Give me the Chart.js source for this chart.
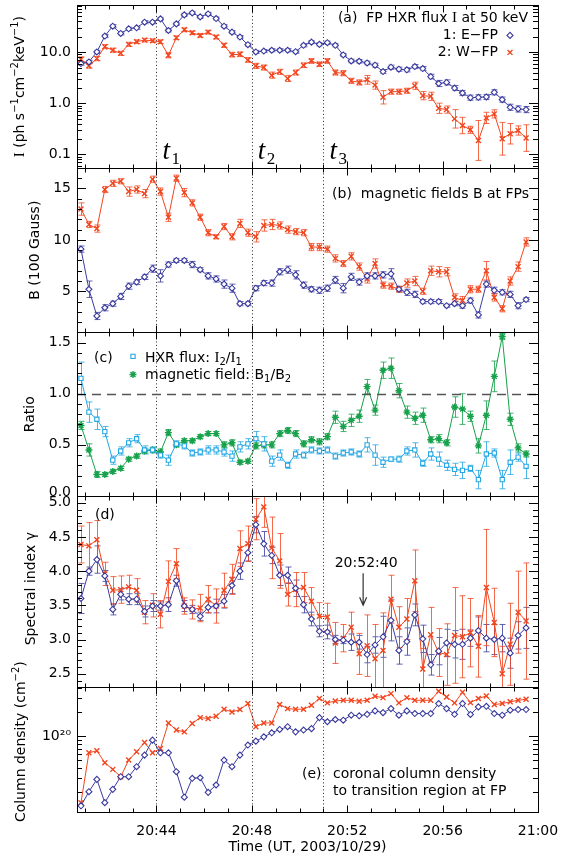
<!DOCTYPE html>
<html>
<head>
<meta charset="utf-8">
<script src="https://cdn.jsdelivr.net/npm/chart.js@4.4.1/dist/chart.umd.min.js"></script>
<style>
  html, body { margin: 0; padding: 0; background: #fff; }
  #wrap { position: relative; width: 561px; height: 860px; }
</style>
</head>
<body>
<div id="wrap"><canvas id="fpChart" width="561" height="860"></canvas></div>
<script>
// time of each 20 s bin (UT)
var times = ['20:40:50','20:41:10','20:41:30','20:41:50','20:42:10','20:42:30','20:42:50','20:43:10','20:43:30','20:43:50',
  '20:44:10','20:44:30','20:44:50','20:45:10','20:45:30','20:45:50','20:46:10','20:46:30','20:46:50','20:47:10',
  '20:47:30','20:47:50','20:48:10','20:48:30','20:48:50','20:49:10','20:49:30','20:49:50','20:50:10','20:50:30',
  '20:50:50','20:51:10','20:51:30','20:51:50','20:52:10','20:52:30','20:52:50','20:53:10','20:53:30','20:53:50',
  '20:54:10','20:54:30','20:54:50','20:55:10','20:55:30','20:55:50','20:56:10','20:56:30','20:56:50','20:57:10',
  '20:57:30','20:57:50','20:58:10','20:58:30','20:58:50','20:59:10','20:59:30'];

// (a) HXR flux at 50 keV, E-FP and W-FP, errors in dex
var fluxE = [5.98,6.44,10.1,20.6,32.2,23.2,28.6,29.9,38.5,38.5, 44.7,26.5,35.7,53.5,58.5,48.9,55.9,45.4,32.2,24.6,
  19.7,14.0,10.1,10.5,10.9,10.9,10.9,10.2,13.6,15.7, 14.2,15.3,13.6,8.81,6.73,6.64,6.16,5.55,4.18,5.08,
  4.65,4.51,5.23,4.78,3.34,2.44,2.56,1.99,1.59,1.29, 1.31,1.33,1.64,1.18,0.836,0.776,0.754];
var fluxW = [7.26,5.39,7.48,12.8,10.9,9.49,14.2,16.0,17.2,16.7, 16.0,8.68,19.1,27.3,23.9,21.2,24.6,19.7,13.6,8.94,
  9.08,7.05,5.39,5.00,3.55,4.12,3.06,4.00,5.55,6.73, 5.80,6.73,4.00,3.88,2.75,2.56,2.88,2.27,1.31,1.69,
  1.69,1.76,2.20,1.41,1.37,0.80,0.754,0.497,0.368,0.303, 0.188,0.519,0.621,0.203,0.254,0.294,0.209];
var fluxEErr = [0.03,0.03,0.03,0.03,0.03,0.03,0.03,0.03,0.03,0.03, 0.03,0.03,0.03,0.03,0.03,0.03,0.03,0.03,0.03,0.03,
  0.03,0.03,0.03,0.03,0.03,0.03,0.03,0.03,0.03,0.03, 0.03,0.03,0.03,0.03,0.035,0.035,0.035,0.04,0.04,0.04,
  0.04,0.04,0.04,0.04,0.045,0.06,0.05,0.05,0.05,0.05, 0.05,0.05,0.05,0.05,0.06,0.06,0.06];
var fluxWErr = [0.045,0.045,0.04,0.04,0.04,0.04,0.04,0.035,0.035,0.035, 0.035,0.05,0.035,0.035,0.035,0.035,0.035,0.035,0.04,0.045,
  0.045,0.045,0.05,0.05,0.06,0.05,0.06,0.05,0.045,0.045, 0.045,0.045,0.05,0.05,0.05,0.05,0.085,0.08,0.13,0.05,
  0.05,0.05,0.07,0.08,0.08,0.1,0.07,0.18,0.16,0.07, 0.39,0.11,0.08,0.32,0.2,0.09,0.26];

// (b) magnetic field (100 G)
var fieldE = [9.1,5.2,2.6,3.4,3.8,4.5,5.5,5.9,6.4,7.2, 6.5,7.6,8.0,8.0,7.6,7.1,6.5,6.2,5.7,5.3,
  3.8,3.8,5.3,5.8,5.8,6.9,7.1,6.6,5.6,5.2, 5.1,5.3,6.1,5.3,6.4,5.9,6.5,6.5,6.6,6.7,
  5.2,4.9,4.7,4.0,4.0,4.0,3.6,3.8,3.6,4.1, 2.7,5.7,5.1,4.9,4.7,3.6,4.2];
var fieldW = [13.0,11.5,11.1,14.9,15.5,15.7,14.7,14.9,14.5,15.9, 14.7,12.2,16.0,14.6,13.6,12.2,10.7,10.3,11.3,10.3,
  11.6,10.7,10.3,11.4,11.5,11.4,11.0,10.8,10.7,9.3, 9.3,9.1,8.2,7.7,8.4,7.4,6.2,7.7,5.6,5.5,
  5.2,5.8,6.0,5.0,7.0,6.9,6.9,4.4,4.1,5.2, 5.2,7.0,4.4,3.3,6.0,7.4,9.8];
var fieldEErr = [0.3,0.8,0.35,0.3,0.25,0.3,0.3,0.25,0.25,0.35, 0.6,0.25,0.2,0.2,0.3,0.2,0.3,0.3,0.4,0.4,
  0.2,0.2,0.25,0.25,0.3,0.3,0.35,0.4,0.3,0.25, 0.3,0.3,0.35,0.45,0.35,0.3,0.3,0.3,0.3,0.5,
  0.25,0.3,0.3,0.2,0.2,0.2,0.15,0.2,0.25,0.25, 0.3,0.3,0.3,0.25,0.3,0.3,0.2];
var fieldWErr = [0.6,0.3,0.35,0.3,0.3,0.25,0.45,0.35,0.4,0.3, 0.35,0.4,0.3,0.4,0.3,0.3,0.3,0.2,0.3,0.3,
  0.4,0.35,0.5,0.55,0.5,0.35,0.35,0.3,0.3,0.35, 0.35,0.3,0.35,0.3,0.35,0.35,0.4,0.45,0.3,0.3,
  0.3,0.4,0.45,0.3,0.45,0.5,0.4,0.35,0.4,0.35, 0.3,0.9,0.35,0.3,0.4,0.45,0.4];

// (c) ratios I2/I1 and B1/B2
var ratioFlux = [1.15,0.82,0.75,0.63,0.35,0.44,0.52,0.56,0.45,0.45, 0.40,0.35,0.51,0.49,0.42,0.43,0.45,0.45,0.43,0.39,
  0.48,0.51,0.56,0.51,0.34,0.40,0.30,0.41,0.40,0.45, 0.44,0.45,0.39,0.42,0.43,0.41,0.50,0.40,0.33,0.36,
  0.36,0.44,0.45,0.32,0.41,0.36,0.30,0.26,0.25,0.27, 0.16,0.41,0.42,0.16,0.33,0.38,0.29];
var ratioField = [0.69,0.45,0.21,0.21,0.24,0.27,0.36,0.39,0.44,0.45, 0.43,0.62,0.50,0.54,0.54,0.58,0.61,0.61,0.50,0.52,
  0.33,0.34,0.49,0.50,0.50,0.61,0.64,0.61,0.51,0.55, 0.53,0.58,0.77,0.68,0.74,0.78,1.07,0.84,1.23,1.25,
  1.03,0.82,0.76,0.79,0.55,0.56,0.52,0.87,0.85,0.78, 0.49,0.79,1.17,1.56,0.75,0.47,0.41];
var ratioFluxErr = [0.16,0.1,0.1,0.05,0.04,0.04,0.04,0.04,0.04,0.03, 0.03,0.05,0.03,0.03,0.03,0.03,0.04,0.04,0.04,0.05,
  0.05,0.05,0.07,0.07,0.05,0.05,0.03,0.04,0.03,0.03, 0.03,0.03,0.03,0.03,0.03,0.03,0.07,0.1,0.05,0.02,
  0.03,0.04,0.07,0.03,0.06,0.07,0.05,0.06,0.08,0.03, 0.09,0.12,0.04,0.09,0.12,0.04,0.12];
var ratioFieldErr = [0.04,0.06,0.03,0.02,0.02,0.02,0.02,0.02,0.02,0.02, 0.03,0.03,0.02,0.02,0.02,0.02,0.02,0.02,0.03,0.03,
  0.02,0.02,0.03,0.03,0.03,0.03,0.03,0.03,0.03,0.03, 0.03,0.03,0.06,0.05,0.06,0.06,0.07,0.05,0.08,0.1,
  0.07,0.06,0.06,0.07,0.03,0.04,0.03,0.1,0.15,0.05, 0.07,0.14,0.15,0.03,0.06,0.04,0.03];

// (d) spectral index
var gammaE = [3.60,4.00,4.17,3.93,3.44,3.66,3.59,3.59,3.41,3.49, 3.49,3.51,3.86,3.49,3.44,3.34,3.47,3.49,3.56,3.79,
  4.00,4.27,4.68,4.40,4.23,3.94,3.94,3.75,3.51,3.30, 3.12,3.11,3.00,2.99,2.96,2.96,2.78,2.92,3.04,3.28,
  2.84,2.97,3.36,3.01,2.63,2.83,2.95,2.93,2.93,3.02, 3.13,3.02,3.00,3.02,2.80,3.06,3.17];
var gammaW = [4.39,4.37,4.46,3.96,3.72,3.73,3.77,3.72,3.40,3.50, 3.37,3.85,4.11,3.49,3.44,3.46,3.59,3.49,3.72,3.88,
  4.33,4.40,4.76,4.94,4.34,4.15,3.66,3.73,3.76,3.56, 3.34,3.33,2.95,3.02,3.18,2.79,2.91,2.72,2.84,3.59,
  3.18,3.30,3.86,2.57,3.07,2.81,2.78,3.06,3.04,3.10, 2.90,3.76,3.25,2.50,2.93,3.40,3.27];
var gammaEErr = [0.22,0.06,0.2,0.08,0.08,0.08,0.08,0.08,0.08,0.08, 0.06,0.1,0.08,0.08,0.06,0.06,0.08,0.1,0.1,0.12,
  0.12,0.12,0.12,0.18,0.12,0.15,0.12,0.12,0.12,0.1, 0.08,0.1,0.06,0.05,0.12,0.1,0.12,0.12,0.3,0.3,
  0.2,0.2,0.16,0.2,0.15,0.2,0.2,0.2,0.22,0.12, 0.2,0.2,0.22,0.2,0.22,0.2,0.3];
var gammaWErr = [0.27,0.34,0.28,0.17,0.2,0.2,0.17,0.17,0.17,0.17, 0.2,0.3,0.22,0.12,0.14,0.2,0.2,0.25,0.25,0.22,
  0.26,0.26,0.3,0.3,0.45,0.4,0.17,0.25,0.22,0.2, 0.2,0.2,0.3,0.2,0.22,0.3,0.45,0.5,0.55,0.35,
  0.3,0.3,0.45,0.3,0.4,0.35,0.45,0.7,0.6,0.5, 0.45,0.85,0.5,0.4,0.6,0.6,0.85];

// (e) coronal column density (cm^-2)
var columnE = [1.36e19,2.04e19,2.90e19,1.49e19,2.18e19,3.13e19,3.13e19,4.17e19,5.81e19,8.92e19,
  6.21e19,6.21e19,3.61e19,1.74e19,2.99e19,3.04e19,2.00e19,2.47e19,5.04e19,4.17e19,
  5.81e19,7.74e19,8.67e19,9.8e19,1.10e20,1.21e20,1.31e20,1.13e20,1.19e20,1.24e20,
  1.70e20,1.51e20,1.61e20,1.58e20,1.82e20,1.79e20,1.87e20,2.06e20,1.96e20,2.20e20,
  1.82e20,2.06e20,1.91e20,1.91e20,1.91e20,2.54e20,2.20e20,1.87e20,2.54e20,1.86e20,
  2.31e20,2.35e20,1.91e20,1.82e20,2.10e20,2.14e20,2.14e20];
var columnW = [1.49e19,6.21e19,6.58e19,4.67e19,3.86e19,3.13e19,5.04e19,6.40e19,8.34e19,6.21e19,
  7.03e19,1.46e20,1.19e20,1.13e20,1.44e20,1.70e20,1.66e20,1.77e20,2.16e20,2.00e20,
  2.14e20,2.54e20,1.31e20,1.46e20,1.46e20,2.47e20,2.20e20,2.16e20,2.16e20,2.42e20,
  2.93e20,2.59e20,2.74e20,2.79e20,2.79e20,2.72e20,2.79e20,3.13e20,3.01e20,3.38e20,
  2.59e20,3.01e20,2.79e20,2.79e20,2.79e20,3.61e20,3.07e20,2.59e20,3.51e20,2.61e20,
  2.93e20,3.16e20,2.47e20,2.54e20,2.67e20,2.79e20,2.88e20];

// axis ticks and marked times
var timeTicks = ['20:44','20:48','20:52','20:56','21:00'];
var markTimes = ['20:44:00','20:48:00','20:51:00'];
var markNames = ['1','2','3'];
var arrowTime = '20:52:40';

var BLUE = '#3b3b9f', RED = '#f2451e', CYAN = '#22a6e4', GREEN = '#17a14b';
var SANS = '"DejaVu Sans", sans-serif';
var SERIF = '"Liberation Serif", "DejaVu Serif", serif';

function toMin(s) {
  var p = s.split(':');
  return (+p[0] - 20) * 60 + (+p[1]) + (p.length > 2 ? +p[2] / 60 : 0);
}
var tx = times.map(toMin);
function pts(arr) { return arr.map(function (v, i) { return { x: tx[i], y: v }; }); }

function series(label, arr, err, axis, color, style, errLog) {
  return {
    label: label, data: pts(arr), yAxisID: axis, err: err, errLog: !!errLog,
    borderColor: color, backgroundColor: '#fff', borderWidth: 1,
    pointStyle: style, pointRadius: style === 'crossRot' || style === 'star' ? 3.5 : 3,
    pointBorderColor: color, pointBackgroundColor: style === 'star' ? color : '#fff',
    pointBorderWidth: style === 'crossRot' || style === 'star' ? 1.4 : 1.1,
    tension: 0, fill: false
  };
}

function yAxis(type, weight, min, max, major, fmt) {
  return {
    type: type, position: 'left', stack: 'panels', stackWeight: weight,
    min: min, max: max, offset: false,
    grid: { display: false, drawTicks: false }, border: { display: false },
    afterBuildTicks: function (s) { s.ticks = major.map(function (v) { return { value: v }; }); },
    afterFit: function (s) { s.width = 77; s.paddingTop = 0; s.paddingBottom = 0; },
    ticks: { padding: 6, autoSkip: false, color: '#000', font: { size: 14, family: SANS }, callback: fmt }
  };
}

var minorTicks = {
  ya: [0.06,0.07,0.08,0.09,0.2,0.3,0.4,0.5,0.6,0.7,0.8,0.9,2,3,4,5,6,7,8,9,20,30,40,50,60,70,80],
  yb: [2,3,4,6,7,8,9,11,12,13,14,16],
  yc: [0.1,0.2,0.3,0.4,0.6,0.7,0.8,0.9,1.1,1.2,1.3,1.4,1.6],
  yd: [2.4,2.6,2.7,2.8,2.9,3.1,3.2,3.3,3.4,3.6,3.7,3.8,3.9,4.1,4.2,4.3,4.4,4.6,4.7,4.8,4.9],
  ye: [2e19,3e19,4e19,5e19,6e19,7e19,8e19,9e19,2e20,3e20,4e20]
};

function rich(ctx, x, y, parts, align) {
  var w = 0;
  parts.forEach(function (p) { ctx.font = p[1]; w += ctx.measureText(p[0]).width; });
  var cx = align === 'right' ? x - w : (align === 'center' ? x - w / 2 : x);
  ctx.textAlign = 'left';
  ctx.textBaseline = 'middle';
  parts.forEach(function (p) {
    ctx.font = p[1];
    ctx.fillText(p[0], cx, y + (p[2] || 0));
    cx += ctx.measureText(p[0]).width;
  });
}
function vtitle(ctx, x, y, parts) {
  ctx.save();
  ctx.translate(x, y);
  ctx.rotate(-Math.PI / 2);
  rich(ctx, 0, 0, parts, 'center');
  ctx.restore();
}
function marker(ctx, style, color, x, y, r, fillCol, bw) {
  ctx.save();
  ctx.strokeStyle = color;
  ctx.fillStyle = fillCol;
  ctx.lineWidth = bw;
  Chart.helpers.drawPoint(ctx, { pointStyle: style, radius: r, borderWidth: bw, rotation: 0 }, x, y);
  ctx.restore();
}

var f14 = '14px ' + SANS, f10 = '10px ' + SANS, s15 = '15px ' + SERIF;

var panelPlugin = {
  id: 'panelPlugin',
  beforeDatasetsDraw: function (chart) {
    var ctx = chart.ctx, xs = chart.scales.x, area = chart.chartArea;
    chart.data.datasets.forEach(function (ds) {
      if (!ds.err) return;
      var ys = chart.scales[ds.yAxisID];
      ctx.save();
      ctx.beginPath();
      ctx.rect(area.left, ys.top, area.right - area.left, ys.bottom - ys.top);
      ctx.clip();
      ctx.strokeStyle = ds.borderColor;
      ctx.globalAlpha = 0.8;
      ctx.lineWidth = 1;
      ds.data.forEach(function (p, k) {
        var e = ds.err[k], lo, hi;
        if (ds.errLog) { lo = p.y / Math.pow(10, e); hi = p.y * Math.pow(10, e); }
        else { lo = p.y - e; hi = p.y + e; }
        var px = Math.round(xs.getPixelForValue(p.x)) + 0.5;
        var y0 = ys.getPixelForValue(lo), y1 = ys.getPixelForValue(hi);
        ctx.beginPath();
        ctx.moveTo(px, y0); ctx.lineTo(px, y1);
        ctx.moveTo(px - 3, y0); ctx.lineTo(px + 3, y0);
        ctx.moveTo(px - 3, y1); ctx.lineTo(px + 3, y1);
        ctx.stroke();
      });
      ctx.restore();
    });
  },
  afterDatasetsDraw: function (chart) {
    var ctx = chart.ctx, xs = chart.scales.x, area = chart.chartArea;
    var L = area.left, R = area.right;
    ctx.save();
    // marked times t1, t2, t3
    ctx.strokeStyle = '#222';
    ctx.lineWidth = 1;
    ctx.setLineDash([1, 2.5]);
    markTimes.forEach(function (t) {
      var px = Math.round(xs.getPixelForValue(toMin(t))) + 0.5;
      ctx.beginPath(); ctx.moveTo(px, area.top); ctx.lineTo(px, area.bottom); ctx.stroke();
    });
    // ratio = 1 reference
    var yc = chart.scales.yc;
    ctx.strokeStyle = '#555';
    ctx.lineWidth = 1.3;
    ctx.setLineDash([9, 6]);
    var y1 = Math.round(yc.getPixelForValue(1.0)) + 0.5;
    ctx.beginPath(); ctx.moveTo(L, y1); ctx.lineTo(R, y1); ctx.stroke();
    ctx.setLineDash([]);

    // frames and inward ticks
    ctx.strokeStyle = '#000';
    ctx.lineWidth = 1;
    ['ya', 'yb', 'yc', 'yd', 'ye'].forEach(function (id) {
      var s = chart.scales[id];
      var top = Math.round(s.top) + 0.5, bot = Math.round(s.bottom) + 0.5;
      ctx.strokeRect(Math.round(L) + 0.5, top, Math.round(R - L), bot - top);
      ctx.beginPath();
      for (var m = 41; m <= 60; m++) {
        var px = Math.round(xs.getPixelForValue(m)) + 0.5, len = m % 4 === 0 ? 7 : 4;
        ctx.moveTo(px, bot); ctx.lineTo(px, bot - len);
        ctx.moveTo(px, top); ctx.lineTo(px, top + len);
      }
      var tickSet = s.ticks.map(function (t) { return [t.value, 9]; })
        .concat(minorTicks[id].map(function (v) { return [v, 5]; }));
      tickSet.forEach(function (t) {
        if (t[0] < s.min || t[0] > s.max) return;
        var py = Math.round(s.getPixelForValue(t[0])) + 0.5;
        ctx.moveTo(L, py); ctx.lineTo(L + t[1], py);
        ctx.moveTo(R, py); ctx.lineTo(R - t[1], py);
      });
      ctx.stroke();
    });

    ctx.fillStyle = '#000';
    // bottom label of the ratio panel, lifted clear of the 5.0 below it
    rich(ctx, L - 6, yc.bottom - 4, [['0.0', f14]], 'right');

    // t labels
    var ya = chart.scales.ya;
    markTimes.forEach(function (t, i) {
      var px = xs.getPixelForValue(toMin(t));
      ctx.textAlign = 'left'; ctx.textBaseline = 'alphabetic';
      ctx.font = 'italic 27px ' + SERIF;
      ctx.fillText('t', px + 6, ya.bottom - 9);
      ctx.font = '17px ' + SERIF;
      ctx.fillText(markNames[i], px + 15, ya.bottom - 4);
    });

    // axis titles
    vtitle(ctx, 20, (ya.top + ya.bottom) / 2, [['I', s15], [' (ph s', f14], ['\u22121', f10, -5], ['cm', f14], ['\u22122', f10, -5], ['keV', f14], ['\u22121', f10, -5], [')', f14]]);
    var yb = chart.scales.yb, yd = chart.scales.yd, ye = chart.scales.ye;
    vtitle(ctx, 35, (yb.top + yb.bottom) / 2, [['B (100 Gauss)', f14]]);
    vtitle(ctx, 30, (yc.top + yc.bottom) / 2, [['Ratio', f14]]);
    vtitle(ctx, 31, (yd.top + yd.bottom) / 2 - 3, [['Spectral index \u03b3', f14]]);
    vtitle(ctx, 21, (ye.top + ye.bottom) / 2 - 8, [['Column density (cm', f14], ['\u22122', f10, -5], [')', f14]]);

    // panel annotations
    rich(ctx, 528, ya.top + 13, [['(a)  FP HXR flux ', f14], ['I', s15], [' at 50 keV', f14]], 'right');
    rich(ctx, 498, ya.top + 30, [['1: E\u2212FP', f14]], 'right');
    rich(ctx, 498, ya.top + 47, [['2: W\u2212FP', f14]], 'right');
    marker(ctx, 'rectRot', BLUE, 510, ya.top + 30, 3, '#fff', 1.1);
    marker(ctx, 'crossRot', RED, 510, ya.top + 47, 3.5, RED, 1.4);

    rich(ctx, 529, yb.top + 26, [['(b)  magnetic fields B at FPs', f14]], 'right');

    rich(ctx, 94, yc.top + 26, [['(c)', f14]], 'left');
    marker(ctx, 'rect', CYAN, 133, yc.top + 24, 3, '#fff', 1.1);
    rich(ctx, 145, yc.top + 26, [['HXR flux: ', f14], ['I', s15], ['2', f10, 4], ['/', f14], ['I', s15], ['1', f10, 4]], 'left');
    marker(ctx, 'star', GREEN, 133, yc.top + 42, 3.5, GREEN, 1.4);
    rich(ctx, 145, yc.top + 43, [['magnetic field: B', f14], ['1', f10, 4], ['/B', f14], ['2', f10, 4]], 'left');

    rich(ctx, 95, yd.top + 19, [['(d)', f14]], 'left');
    var ax = xs.getPixelForValue(toMin(arrowTime));
    rich(ctx, ax + 3, yd.top + 67, [['20:52:40', f14]], 'center');
    var a0 = yd.getPixelForValue(3.97), a1 = yd.getPixelForValue(3.50);
    ctx.strokeStyle = '#333'; ctx.lineWidth = 1.2;
    ctx.beginPath();
    ctx.moveTo(ax, a0); ctx.lineTo(ax, a1);
    ctx.moveTo(ax - 3.5, a1 - 8); ctx.lineTo(ax, a1); ctx.lineTo(ax + 3.5, a1 - 8);
    ctx.stroke();

    rich(ctx, 302, ye.top + 87, [['(e)', f14]], 'left');
    rich(ctx, 333, ye.top + 87, [['coronal column density', f14]], 'left');
    rich(ctx, 333, ye.top + 104, [['to transition region at FP', f14]], 'left');
    ctx.restore();
  }
};

Chart.defaults.font.family = SANS;
Chart.defaults.font.size = 14;
Chart.defaults.color = '#000';

new Chart(document.getElementById('fpChart').getContext('2d'), {
  type: 'line',
  data: {
    datasets: [
      series('E-FP flux', fluxE, fluxEErr, 'ya', BLUE, 'rectRot', true),
      series('W-FP flux', fluxW, fluxWErr, 'ya', RED, 'crossRot', true),
      series('E-FP field', fieldE, fieldEErr, 'yb', BLUE, 'rectRot'),
      series('W-FP field', fieldW, fieldWErr, 'yb', RED, 'crossRot'),
      series('I2/I1', ratioFlux, ratioFluxErr, 'yc', CYAN, 'rect'),
      series('B1/B2', ratioField, ratioFieldErr, 'yc', GREEN, 'star'),
      series('E-FP index', gammaE, gammaEErr, 'yd', BLUE, 'rectRot'),
      series('W-FP index', gammaW, gammaWErr, 'yd', RED, 'crossRot'),
      series('E-FP column', columnE, null, 'ye', BLUE, 'rectRot'),
      series('W-FP column', columnW, null, 'ye', RED, 'crossRot')
    ]
  },
  options: {
    responsive: false,
    animation: false,
    events: [],
    layout: { padding: { left: 0, top: 3, right: 23, bottom: 0 } },
    plugins: { legend: { display: false }, tooltip: { enabled: false } },
    scales: {
      x: {
        type: 'linear', position: 'bottom', min: toMin('20:40:40'), max: toMin('21:00:00'),
        grid: { display: false, drawTicks: false }, border: { display: false },
        afterBuildTicks: function (s) { s.ticks = timeTicks.map(function (t) { return { value: toMin(t) }; }); },
        afterFit: function (s) { s.height = 48; s.paddingLeft = 0; s.paddingRight = 0; },
        ticks: {
          padding: 11, maxRotation: 0, autoSkip: false, color: '#000', font: { size: 14, family: SANS },
          callback: function (v) {
            var i = timeTicks.map(toMin).indexOf(v);
            return i >= 0 ? timeTicks[i] : '';
          }
        },
        title: { display: true, text: 'Time (UT, 2003/10/29)', color: '#000', font: { size: 14, family: SANS }, padding: { top: 0, bottom: 4 } }
      },
      ye: yAxis('logarithmic', 125, 1.14e19, 4.04e20, [1e20], function () { return '10\u00b2\u2070'; }),
      yd: yAxis('linear', 192, 2.3, 5.1, [2.5, 3.0, 3.5, 4.0, 4.5, 5.0], function (v) { return v.toFixed(1); }),
      yc: yAxis('linear', 164, 0, 1.6, [0, 0.5, 1.0, 1.5], function (v) { return v === 0 ? '' : v.toFixed(1); }),
      yb: yAxis('linear', 165, 1, 17, [5, 10, 15], function (v) { return String(v); }),
      ya: yAxis('logarithmic', 163, 0.0546, 82, [0.1, 1, 10], function (v) { return v.toFixed(1); })
    }
  },
  plugins: [panelPlugin]
});
</script>
</body>
</html>
